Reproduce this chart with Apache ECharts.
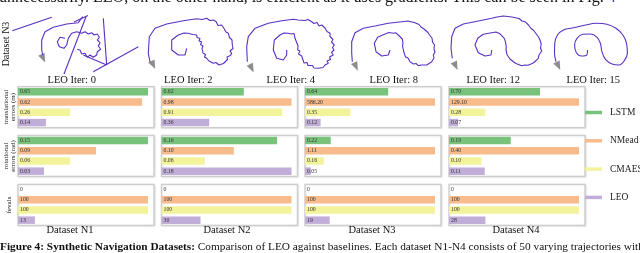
<!DOCTYPE html>
<html>
<head>
<meta charset="utf-8">
<script src="https://cdn.jsdelivr.net/npm/echarts@6/dist/echarts.min.js"></script>
<style>html,body{margin:0;padding:0;background:#fff;}#c{width:640px;height:253px;}</style>
</head>
<body>
<div id="c"></div>
<script>
// ---------------- DATA ----------------
const methods = ['LSTM', 'NMead', 'CMAES', 'LEO'];
const datasets = ['Dataset N1', 'Dataset N2', 'Dataset N3', 'Dataset N4'];
const metricNames = ['translational\nerrors (m)', 'rotational\nerrors (rad)', 'fevals'];

// displayed values (labels) per dataset, per method
const transLabels = [['0.65','0.62','0.26','0.14'], ['0.62','0.98','0.91','0.36'], ['0.64','586.20','0.35','0.12'], ['0.70','129.10','0.28','0.07']];
const rotLabels   = [['0.15','0.09','0.06','0.03'], ['0.16','0.10','0.06','0.18'], ['0.22','1.11','0.16','0.05'], ['0.19','0.40','0.10','0.11']];
const fevalLabels = [['0','100','100','13'], ['0','100','100','30'], ['0','100','100','19'], ['0','100','100','28']];

// normalized bar lengths (as drawn in each panel)
const transBars = [[1.0, 0.954, 0.40, 0.215], [0.633, 1.0, 0.929, 0.367], [0.64, 1.0, 0.35, 0.12], [0.70, 1.0, 0.28, 0.07]];
const rotBars   = [[1.0, 0.60, 0.40, 0.20], [0.889, 0.556, 0.333, 1.0], [0.198, 1.0, 0.144, 0.045], [0.475, 1.0, 0.25, 0.275]];
const fevalBars = [[0, 1.0, 1.0, 0.13], [0, 1.0, 1.0, 0.30], [0, 1.0, 1.0, 0.19], [0, 1.0, 1.0, 0.28]];

// trajectories (Dataset N3) at LEO iterations
const iterLabels = ['LEO Iter: 0', 'LEO Iter: 2', 'LEO Iter: 4', 'LEO Iter: 8', 'LEO Iter: 12', 'LEO Iter: 15'];
const traj0 = [
  [[2.3,16.7],[41.7,3.3]],
  [[72.7,2.7],[68.3,8.7],[56.7,10],[43.3,13.3],[35,17.7],[31.7,26],[31.7,36],[32.7,41]],
  [[55,24.3],[50,23.3],[47.3,27.7],[49.3,32.7],[54,34.3],[56.7,31],[58.3,24.3],[61.7,19.3],[66.7,17.7],[71.7,19.3],[75,17.7],[78.3,20],[81.7,18.7],[84,21],[87.3,20],[89.3,23.3],[87.3,26],[90,28.7],[88.3,32],[90.7,35.3],[87.3,37.7],[86.7,41],[83.3,43.3],[80,41],[77.3,43.3],[75,39.3],[71.7,40],[70,36],[67.3,35.3]],
  [[73.3,41],[96.7,51]],
  [[76,2.7],[54,60]],
  [[93.3,4.3],[96.7,51]],
  [[83.3,57.7],[128.3,32.7]],
  [[64,8],[78,1.5]]
];
const traj2 = [[44.7,34.3],[43,41],[36.3,41],[29.7,36],[29.7,26],[36.3,21],[42,19],[46.3,19.3],[48,17.5],[50.5,20.5],[54.7,21],[55,23.5],[58,24.5],[57,27],[59.7,27.7],[58.5,30.5],[61,32],[60,34.5],[62,36],[61,39],[63.5,40.5],[62.5,43],[64.7,44.3],[67,47],[69,46.5],[71.3,49.3],[74,48.5],[77,51],[79,49],[81.5,49.5],[83,47.7],[85.5,45.5],[85,43],[88.5,41.5],[89.7,39.3],[88,37],[91,34.5],[90.3,31],[88.5,29.3],[90,26],[87.5,23.5],[86.3,19.3],[84,18],[82,14.5],[79.7,11],[76,11.5],[74,7.5],[71.3,6],[68,6.5],[64.7,4.3],[60,5.5],[54.7,4.7],[41.3,6.7],[24.7,10],[13,14.3],[7.3,22.7],[6.3,39.3],[8,48]];
const traj4 = [[45.7,36],[45.7,41],[42.3,46],[35.7,44.3],[32.3,36],[33.3,26],[39,21],[43,19],[47.3,19.3],[49,17.5],[50.5,20],[53,19.5],[54,24.3],[52.5,26],[55.5,28],[54,30],[57,32],[55,34],[56.7,36],[59,37],[57.5,40],[60.7,42],[59,44],[62,46],[63,49],[66,48.5],[67,51.5],[69,52.7],[71.5,51.5],[73,54],[77.3,54.3],[79,52.5],[82,53.5],[84,51],[87.3,49.3],[86,47],[89.5,45.5],[88.5,43],[92.3,41],[90.5,38.5],[93,36],[91.5,33.5],[93.3,31],[90.5,28],[92,25.5],[89,22.5],[89,19.3],[86,17.5],[84,14],[80.7,11],[78,12],[76,8.5],[73,9.5],[70.7,7.7],[67,5.5],[64,6.5],[62.3,4.7],[57,6],[52.3,5.3],[40.7,6.7],[27.3,9.3],[14,14.3],[7.3,22.7],[5.7,32.7],[6.3,47.7]];
const traj8 = [[44,36],[42.3,41],[35.7,42],[30,37.7],[28.3,29.3],[31.7,23.3],[39,20],[43,18.5],[47.3,19.3],[50,18.8],[53.3,22],[55,21.5],[56.3,25],[55.5,27],[57,29.3],[56.5,32],[58,34],[57.5,36.5],[58.3,39.3],[60,40],[59.5,43],[62,44],[64,47.7],[66,47],[67.5,50],[70,49.5],[72.3,51.7],[75,51],[77,52.5],[80.7,51],[83,49.5],[85.5,48],[86,46],[88,44],[87.3,41],[89,38],[88,35],[88.5,31],[86.5,28],[86,24],[83.5,21],[82,18.5],[78,15],[75,13],[73,10.5],[69,8.7],[62,7],[55.7,7.7],[42.3,9.3],[29,12],[17.3,14.3],[9,18.7],[5.7,27.7],[5.7,39.3],[6.3,47.7]];
const traj12 = [[45.7,36],[45,41],[39,42],[32.3,38.7],[29,31],[31.7,24.3],[37.3,20.3],[45.7,18.7],[50,18],[54,19.8],[56,21],[58.3,24.3],[59.5,28],[59,30],[60.3,33],[60,36],[61.5,38],[61.2,41],[63,43],[64,45],[67.3,47.7],[70,49.5],[72,49],[75.7,51.7],[79,51],[82,51.2],[85,50],[88,48.5],[89.5,46.5],[92.3,44.3],[93,41],[95.7,37],[94.5,34],[95.2,30],[94,26],[92.5,23],[90.5,21],[87.3,16],[85,14.5],[82.5,11],[79,7.7],[76,7],[73,4.5],[67.3,3.3],[62,2.5],[57.3,2],[51,3],[45.7,4.3],[32.3,7],[17.3,10],[9,14.3],[5.7,22.7],[5,34.3],[6.3,44.3]];
const traj15 = [[41.7,36],[41,41],[35,42],[29.3,38.7],[27.3,31],[30,24.3],[36.7,20.3],[45,20],[52.3,23.3],[56,29.3],[57.7,37.7],[61.7,45.3],[69,50],[76.7,51],[82.3,47],[86,39.3],[85,29.3],[81,21],[73.3,14.3],[63.3,10.3],[51.7,9.3],[38.3,11.3],[25,14],[15,16],[8.3,21],[5.3,29.3],[5,39.3],[6.7,47.7]];
const arrowPos = [[33.3,44.3],[11.3,51],[10.7,54.3],[10,52.7],[9.7,52],[9.3,52]];

// ---------------- STYLE / LAYOUT ----------------
const palette = ['#78c27b', '#f8bb8c', '#f3f39c', '#c1aed8'];
const SERIF = '"Liberation Serif", "DejaVu Serif", serif';
const panelLeft = [18, 161.5, 305, 449];
const panelTop = [86.7, 135.3, 184.3];
const panelW = 136, panelH = 41;
const trajLeft = [10, 142, 241, 346, 446, 550];
const trajW = [135, 100, 100, 100, 100, 100];
const trajCenters = [71.7, 188.3, 290.8, 393.8, 493.3, 593.3];
const dsCenters = [70, 227, 372, 516];
const rowCenters = [107, 156, 205];

const grids = [], xAxes = [], yAxes = [], series = [];
const barSets = [transBars, rotBars, fevalBars];
const labelSets = [transLabels, rotLabels, fevalLabels];

for (let r = 0; r < 3; r++) {
  for (let c = 0; c < 4; c++) {
    const g = grids.length;
    grids.push({left: panelLeft[c], top: panelTop[r], width: panelW, height: panelH, show: true,
      borderColor: '#cdcdcd', borderWidth: 1.3, backgroundColor: '#fff',
      shadowColor: 'rgba(0,0,0,0.12)', shadowBlur: 2, shadowOffsetX: 0.5, shadowOffsetY: 0.5});
    xAxes.push({gridIndex: g, type: 'value', min: 0, max: panelW / 130, show: false});
    yAxes.push({gridIndex: g, type: 'category', data: methods, inverse: true, show: false});
    for (let m = 0; m < 4; m++) {
      const d = methods.map((_, i) => i === m ? barSets[r][c][m] : '-');
      const lbl = labelSets[r][c][m];
      series.push({type: 'bar', name: methods[m], xAxisIndex: g, yAxisIndex: g, data: d,
        barWidth: 7.5, barGap: '-100%', silent: true, animation: false,
        itemStyle: {color: palette[m]},
        label: {show: true, position: 'insideLeft', distance: 2, formatter: () => lbl,
          fontSize: 5.8, fontFamily: SERIF, color: '#333'}});
    }
  }
}

const trajs = [traj0, [traj2], [traj4], [traj8], [traj12], [traj15]];
for (let t = 0; t < 6; t++) {
  const g = grids.length;
  grids.push({left: trajLeft[t], top: 14, width: trajW[t], height: 62, show: false});
  xAxes.push({gridIndex: g, type: 'value', min: 0, max: trajW[t], show: false});
  yAxes.push({gridIndex: g, type: 'value', min: 0, max: 62, inverse: true, show: false});
  trajs[t].forEach(seg => {
    series.push({type: 'line', xAxisIndex: g, yAxisIndex: g, data: seg, showSymbol: false,
      smooth: t === 5 ? 0.4 : false, silent: true, animation: false,
      lineStyle: {color: '#5a2fc4', width: 1.1}});
  });
  series.push({type: 'scatter', xAxisIndex: g, yAxisIndex: g, data: [arrowPos[t]],
    symbol: 'triangle', symbolSize: [7, 9], symbolRotate: 205, silent: true, animation: false,
    itemStyle: {color: '#707070'}});
}

const graphics = [];
graphics.push({type: 'text', x: -1, y: -10, silent: true, style: {
  text: 'unnecessarily. LEO, on the other hand, is efficient as it uses gradients. This can be seen in Fig. {b|4}',
  font: '16px ' + SERIF, fill: '#111', rich: {b: {fill: '#3a3af0', font: '16px ' + SERIF}}}});
graphics.push({type: 'text', x: 6, y: 44, rotation: Math.PI / 2, silent: true, style: {
  text: 'Dataset N3', font: '10px ' + SERIF, fill: '#111', align: 'center', verticalAlign: 'middle'}});
iterLabels.forEach((s, i) => graphics.push({type: 'text', x: trajCenters[i], y: 80.5, silent: true,
  style: {text: s, font: '10.5px ' + SERIF, fill: '#111', align: 'center', verticalAlign: 'middle'}}));
datasets.forEach((s, i) => graphics.push({type: 'text', x: dsCenters[i], y: 230.5, silent: true,
  style: {text: s, font: '10.5px ' + SERIF, fill: '#111', align: 'center', verticalAlign: 'middle'}}));
metricNames.forEach((s, i) => graphics.push({type: 'text', x: 9.5, y: rowCenters[i], rotation: Math.PI / 2, silent: true,
  style: {text: s, font: '7px ' + SERIF, fill: '#222', align: 'center', verticalAlign: 'middle', lineHeight: 7.5}}));
graphics.push({type: 'text', x: 0, y: 247.5, silent: true, style: {
  text: '{b|Figure 4: Synthetic Navigation Datasets:} Comparison of LEO against baselines. Each dataset N1-N4 consists of 50 varying trajectories with',
  font: '11.3px ' + SERIF, fill: '#111', verticalAlign: 'middle',
  rich: {b: {font: 'bold 11.3px ' + SERIF, fill: '#111'}}}});

const chart = echarts.init(document.getElementById('c'), null, {renderer: 'canvas'});
chart.setOption({
  animation: false,
  grid: grids, xAxis: xAxes, yAxis: yAxes, series: series,
  legend: {data: methods, orient: 'vertical', left: 585, top: 106.5, icon: 'rect',
    itemWidth: 17, itemHeight: 3.5, itemGap: 16.3, padding: 0, selectedMode: false,
    textStyle: {fontFamily: SERIF, fontSize: 9.5, color: '#222', lineHeight: 12, padding: [0, 0, 0, 3]}},
  graphic: graphics
});
</script>
</body>
</html>
